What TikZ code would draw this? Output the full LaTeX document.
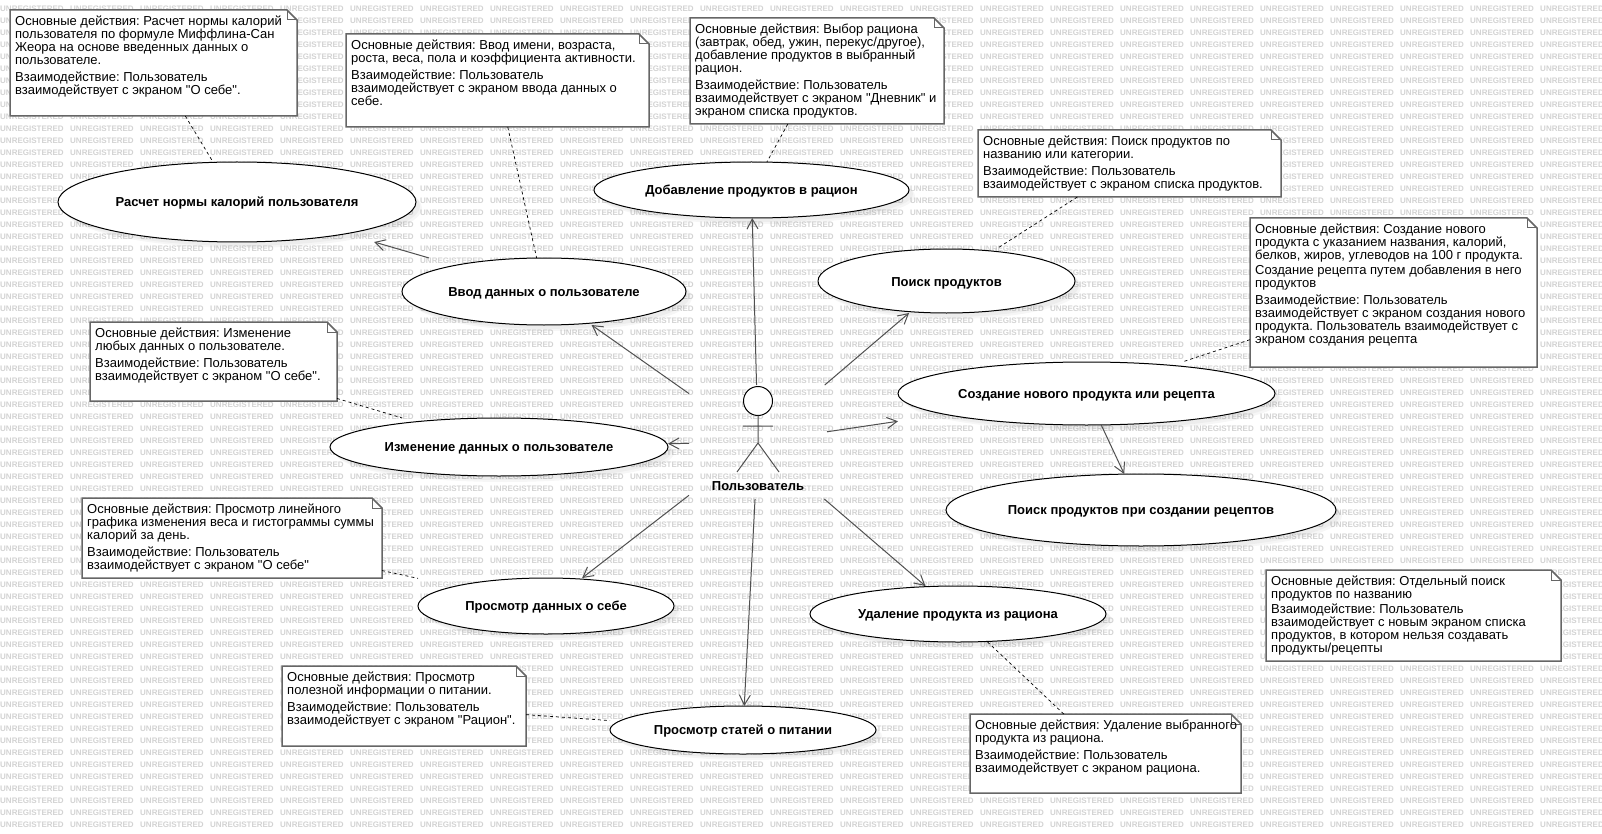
\documentclass[tikz,border=0pt]{standalone}
\usepackage{fontspec}
\newfontfamily\umlfont{Liberation Sans}
\usetikzlibrary{shapes.geometric,arrows.meta,calc,shadows,fit}
\frenchspacing
\definecolor{wmgrey}{HTML}{D3D3D3}
\definecolor{notegrey}{HTML}{666666}
\definecolor{linkgrey}{HTML}{505050}
\tikzset{
  watermark/.style={anchor=west,inner sep=0pt,text=wmgrey,font=\umlfont\bfseries\fontsize{8}{8}\selectfont},
  usecase/.style={ellipse,draw,fill=white,line width=1pt,inner sep=0pt,outer sep=0pt,
    text height=9.6pt,text depth=0pt,
    font=\umlfont\bfseries\fontsize{13}{13}\selectfont,
    drop shadow={shadow xshift=6pt,shadow yshift=-6pt,fill=black,opacity=.035},
    drop shadow={shadow xshift=4pt,shadow yshift=-4pt,fill=black,opacity=.035}},
  casebox/.style={inner sep=0pt,outer sep=0pt},
  notebox/.style={rectangle,inner sep=0pt,outer sep=0pt},
  noteline/.style={draw=notegrey,line width=1.5pt},
  notetext/.style={anchor=north west,inner sep=0pt,align=left,font=\umlfont\fontsize{13}{13}\selectfont},
  assoc/.style={draw=linkgrey,line width=1pt,-{Straight Barb[length=10pt,width=11pt]}},
  notelink/.style={line width=.7pt,dash pattern=on 3pt off 3pt}
}
\begin{document}
\begin{tikzpicture}[x=1pt,y=-1pt]
\useasboundingbox (0,0) rectangle (1602,834);
\fill[white] (0,0) rectangle (1602,834);
% watermark
\foreach \i in {0,...,22}
  \foreach \j in {0,...,68}
    \node[watermark](w\i-\j) at (70*\i,9+12*\j){UNREGISTERED};
% use cases
\node[usecase,minimum width=358pt,minimum height=80pt](calc) at (237,202){Расчет нормы калорий пользователя};
\node[usecase,minimum width=284pt,minimum height=67pt](input) at (544,291.5){Ввод данных о пользователе};
\node[usecase,minimum width=315pt,minimum height=56pt](add) at (751.5,190){Добавление продуктов в рацион};
\node[usecase,minimum width=257pt,minimum height=64pt,text height=11.5pt](search) at (946.5,281){Поиск продуктов};
\node[usecase,minimum width=377pt,minimum height=63pt](create) at (1086.5,393.5){Создание нового продукта или рецепта};
\node[usecase,minimum width=390pt,minimum height=72pt](recipe) at (1141,510){Поиск продуктов при создании рецептов};
\node[usecase,minimum width=296pt,minimum height=56pt](remove) at (958,614){Удаление продукта из рациона};
\node[usecase,minimum width=266pt,minimum height=48pt](articles) at (743,730){Просмотр статей о питании};
\node[usecase,minimum width=256pt,minimum height=56pt](self) at (546,606){Просмотр данных о себе};
\node[usecase,minimum width=338pt,minimum height=58pt](edit) at (499,447){Изменение данных о пользователе};
% connectors stop at the boxes round the ellipses
\foreach \u in {calc,input,add,search,create,recipe,remove,articles,self,edit}
  \node[casebox,fit=(\u)](\u-box){};
% actor
\node[rectangle,inner sep=0pt,outer sep=0pt,minimum width=138pt,minimum height=114pt](actor) at (758,442){};
\node[circle,draw,fill=white,line width=1pt,inner sep=0pt,outer sep=0pt,minimum size=29pt](head) at (758,401){};
\coordinate (hip) at (758,443);
\coordinate (handl) at (743,426);
\coordinate (handr) at (773,426);
\coordinate (footl) at (737,472);
\coordinate (footr) at (779,472);
\draw[linkgrey,line width=1pt] (head) -- (hip) (handl) -- (handr) (footl) -- (hip) -- (footr);
\node[inner sep=0pt,text height=9pt,text depth=0pt,font=\umlfont\bfseries\fontsize{13}{13}\selectfont](actorlabel) at (758,486){Пользователь};
% associations
\draw[assoc] (input-box) -- (calc-box);
\draw[assoc] (actor) -- (input-box);
\draw[assoc] (actor) -- (add-box);
\draw[assoc] (actor) -- (search-box);
\draw[assoc] (actor) -- (create-box);
\draw[assoc] (actor) -- (edit-box);
\draw[assoc] (actor) -- (self-box);
\draw[assoc] (actor) -- (articles-box);
\draw[assoc] (actor) -- (remove-box);
\draw[assoc] (create-box) -- (recipe-box);
% notes
\node[notebox,minimum width=287pt,minimum height=106pt](n1) at (153.5,63){};
\node[notebox,minimum width=303pt,minimum height=93pt](n2) at (497.5,80.5){};
\node[notebox,minimum width=254pt,minimum height=106pt](n3) at (817,71){};
\node[notebox,minimum width=303pt,minimum height=67pt](n4) at (1129.5,163.5){};
\node[notebox,minimum width=287pt,minimum height=149pt](n5) at (1393.5,292.5){};
\node[notebox,minimum width=247pt,minimum height=79pt](n6) at (213.5,361.5){};
\node[notebox,minimum width=300pt,minimum height=80pt](n7) at (232,538){};
\node[notebox,minimum width=244pt,minimum height=80pt](n8) at (404,706){};
\node[notebox,minimum width=271pt,minimum height=79pt](n9) at (1105.5,753.5){};
\node[notebox,minimum width=295pt,minimum height=91pt](n10) at (1413.5,615.5){};
\foreach \n in {n1,n2,n3,n4,n5,n6,n7,n8,n9,n10}{
  \draw[noteline,fill=white] (\n.north west) -- ($(\n.north east)+(-10pt,0pt)$) -- ($(\n.north east)+(0pt,-10pt)$) -- (\n.south east) -- (\n.south west) -- cycle;
  \draw[noteline,line width=1pt] ($(\n.north east)+(-10pt,0pt)$) |- ($(\n.north east)+(0pt,-10pt)$);
}
% note links
\draw[notelink] (n1) -- (calc-box);
\draw[notelink] (n2) -- (input-box);
\draw[notelink] (n3) -- (add-box);
\draw[notelink] (n4) -- (search-box);
\draw[notelink] (n5) -- (create-box);
\draw[notelink] (n6) -- (edit-box);
\draw[notelink] (n7) -- (self-box);
\draw[notelink] (n8) -- (articles-box);
\draw[notelink] (n9) -- (remove-box);
% note texts
\node[notetext](t1) at ([shift={(5pt,-6pt)}]n1.north west){Основные действия: Расчет нормы калорий\\пользователя по формуле Миффлина-Сан\\Жеора на основе введенных данных о\\пользователе.\\[4pt]Взаимодействие: Пользователь\\взаимодействует с экраном "О себе".};
\node[notetext](t2) at ([shift={(5pt,-6pt)}]n2.north west){Основные действия: Ввод имени, возраста,\\роста, веса, пола и коэффициента активности.\\[4pt]Взаимодействие: Пользователь\\взаимодействует с экраном ввода данных о\\себе.};
\node[notetext](t3) at ([shift={(5pt,-6pt)}]n3.north west){Основные действия: Выбор рациона\\(завтрак, обед, ужин, перекус/другое),\\добавление продуктов в выбранный\\рацион.\\[4pt]Взаимодействие: Пользователь\\взаимодействует с экраном "Дневник" и\\экраном списка продуктов.};
\node[notetext](t4) at ([shift={(5pt,-6pt)}]n4.north west){Основные действия: Поиск продуктов по\\названию или категории.\\[4pt]Взаимодействие: Пользователь\\взаимодействует с экраном списка продуктов.};
\node[notetext](t5) at ([shift={(5pt,-6pt)}]n5.north west){Основные действия: Создание нового\\продукта с указанием названия, калорий,\\белков, жиров, углеводов на 100 г продукта.\\[2pt]Создание рецепта путем добавления в него\\продуктов\\[4pt]Взаимодействие: Пользователь\\взаимодействует с экраном создания нового\\продукта. Пользователь взаимодействует с\\экраном создания рецепта};
\node[notetext](t6) at ([shift={(5pt,-6pt)}]n6.north west){Основные действия: Изменение\\любых данных о пользователе.\\[4pt]Взаимодействие: Пользователь\\взаимодействует с экраном "О себе".};
\node[notetext](t7) at ([shift={(5pt,-6pt)}]n7.north west){Основные действия: Просмотр линейного\\графика изменения веса и гистограммы суммы\\калорий за день.\\[4pt]Взаимодействие: Пользователь\\взаимодействует с экраном "О себе"};
\node[notetext](t8) at ([shift={(5pt,-6pt)}]n8.north west){Основные действия: Просмотр\\полезной информации о питании.\\[4pt]Взаимодействие: Пользователь\\взаимодействует с экраном "Рацион".};
\node[notetext](t9) at ([shift={(5pt,-6pt)}]n9.north west){Основные действия: Удаление выбранного\\продукта из рациона.\\[4pt]Взаимодействие: Пользователь\\взаимодействует с экраном рациона.};
\node[notetext](t10) at ([shift={(5pt,-6pt)}]n10.north west){Основные действия: Отдельный поиск\\продуктов по названию\\[2pt]Взаимодействие: Пользователь\\взаимодействует с новым экраном списка\\продуктов, в котором нельзя создавать\\продукты/рецепты};
\end{tikzpicture}
\end{document}
